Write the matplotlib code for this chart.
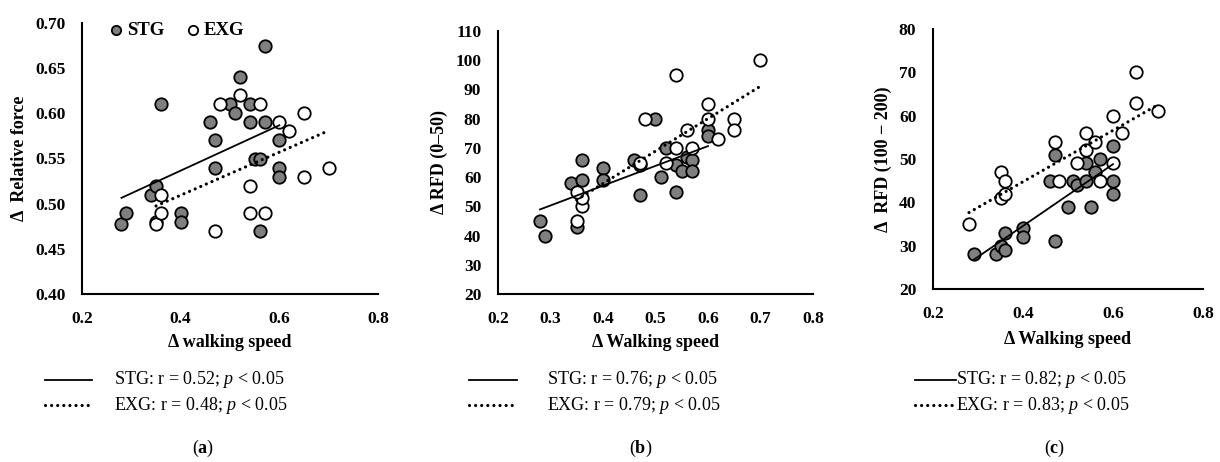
import numpy as np
import matplotlib
matplotlib.use('Agg')
import matplotlib.pyplot as plt
from matplotlib.lines import Line2D
from matplotlib.ticker import FormatStrFormatter

plt.rcParams['font.family'] = ['Liberation Serif', 'DejaVu Serif']
plt.rcParams['mathtext.fontset'] = 'custom'
plt.rcParams['mathtext.rm'] = 'Liberation Serif'
plt.rcParams['mathtext.it'] = 'Liberation Serif:italic'
plt.rcParams['mathtext.bf'] = 'Liberation Serif:bold'

# (a) relative force vs walking speed
stg_a_x = [0.28, 0.29, 0.34, 0.35, 0.36, 0.40, 0.40, 0.46, 0.47, 0.47, 0.50, 0.51,
           0.52, 0.54, 0.54, 0.55, 0.56, 0.56, 0.57, 0.57, 0.60, 0.60, 0.60]
stg_a_y = [0.478, 0.49, 0.51, 0.52, 0.61, 0.49, 0.48, 0.59, 0.57, 0.54, 0.61, 0.60,
           0.64, 0.61, 0.59, 0.55, 0.55, 0.47, 0.675, 0.59, 0.57, 0.54, 0.53]
exg_a_x = [0.35, 0.35, 0.36, 0.36, 0.47, 0.48, 0.52, 0.54, 0.54, 0.56, 0.57, 0.60,
           0.62, 0.65, 0.65, 0.70]
exg_a_y = [0.48, 0.477, 0.51, 0.49, 0.47, 0.61, 0.62, 0.52, 0.49, 0.61, 0.49, 0.59,
           0.58, 0.60, 0.53, 0.54]

# (b) RFD 0-50
stg_b_x = [0.28, 0.29, 0.34, 0.35, 0.36, 0.36, 0.40, 0.40, 0.46, 0.47, 0.47, 0.50,
           0.51, 0.52, 0.54, 0.54, 0.55, 0.56, 0.57, 0.57, 0.60, 0.60]
stg_b_y = [45, 40, 58, 43, 66, 59, 63, 59, 66, 64, 54, 80,
           60, 70, 64, 55, 62, 67, 66, 62, 76, 74]
exg_b_x = [0.35, 0.36, 0.36, 0.35, 0.47, 0.48, 0.52, 0.54, 0.54, 0.56, 0.57, 0.60,
           0.60, 0.62, 0.65, 0.65, 0.70]
exg_b_y = [45, 50, 53, 55, 65, 80, 65, 95, 70, 76, 70, 85,
           80, 73, 80, 76, 100]

# (c) RFD 100-200
stg_c_x = [0.29, 0.34, 0.35, 0.36, 0.36, 0.40, 0.40, 0.47, 0.46, 0.47, 0.50, 0.51,
           0.52, 0.54, 0.54, 0.55, 0.56, 0.57, 0.60, 0.60, 0.60]
stg_c_y = [28, 28, 30, 29, 33, 34, 32, 31, 45, 51, 39, 45,
           44, 49, 45, 39, 47, 50, 53, 45, 42]
exg_c_x = [0.28, 0.35, 0.35, 0.36, 0.36, 0.47, 0.48, 0.52, 0.54, 0.54, 0.56, 0.57,
           0.60, 0.60, 0.62, 0.65, 0.65, 0.70]
exg_c_y = [35, 47, 41, 45, 42, 54, 45, 49, 56, 52, 54, 45,
           60, 49, 56, 70, 63, 61]

stats = [("0.52", "0.48"), ("0.76", "0.79"), ("0.82", "0.83")]

fig = plt.figure(figsize=(12.2, 4.62), dpi=100)
W, H = 1220.0, 462.0

def box(l, t, r, b):
    return [l / W, 1 - b / H, (r - l) / W, (b - t) / H]

ax_a = fig.add_axes(box(82, 23, 378, 294))
ax_b = fig.add_axes(box(498, 31, 813, 294))
ax_c = fig.add_axes(box(933, 29, 1203, 289))

DOT = (0, (0.01, 1.9))

panels = [
    (ax_a, stg_a_x, stg_a_y, exg_a_x, exg_a_y, (0.40, 0.70), np.arange(0.40, 0.701, 0.05), '%.2f',
     [0.2, 0.4, 0.6, 0.8], u'\u0394  Relative force', u'\u0394 walking speed', 5),
    (ax_b, stg_b_x, stg_b_y, exg_b_x, exg_b_y, (20, 110), np.arange(20, 111, 10), '%d',
     np.arange(0.2, 0.81, 0.1), u'\u0394 RFD (0\u201350)', u'\u0394 Walking speed', 5),
    (ax_c, stg_c_x, stg_c_y, exg_c_x, exg_c_y, (20, 80), np.arange(20, 81, 10), '%d',
     [0.2, 0.4, 0.6, 0.8], u'\u0394  RFD (100 \u2212 200)', u'\u0394 Walking speed', 6.5),
]

for ax, sx, sy, ex, ey, ylim, yticks, yfmt, xticks, ylab, xlab, xpad in panels:
    ax.scatter(sx, sy, s=80, c='#7f7f7f', edgecolors='black', linewidths=1.3, zorder=3, label='STG')
    ax.scatter(ex, ey, s=80, c='white', edgecolors='black', linewidths=1.3, zorder=3, label='EXG')
    # linear trend lines over each group's range
    for gx, gy, solid in [(sx, sy, True), (ex, ey, False)]:
        k, b0 = np.polyfit(gx, gy, 1)
        xs = np.array([min(gx), max(gx)])
        if solid:
            ax.plot(xs, k * xs + b0, color='black', lw=1.3, zorder=4)
        else:
            ax.plot(xs, k * xs + b0, color='black', lw=2.3, ls=DOT,
                    dash_capstyle='round', zorder=4)
    ax.set_xlim(0.2, 0.8)
    ax.set_ylim(*ylim)
    ax.set_xticks(xticks)
    ax.set_yticks(yticks)
    ax.xaxis.set_major_formatter(FormatStrFormatter('%.1f'))
    ax.yaxis.set_major_formatter(FormatStrFormatter(yfmt))
    ax.tick_params(length=0, pad=12, labelsize=12.5)
    for t in ax.get_xticklabels() + ax.get_yticklabels():
        t.set_fontweight('bold')
    for s in ['top', 'right']:
        ax.spines[s].set_visible(False)
    for s in ['left', 'bottom']:
        ax.spines[s].set_linewidth(1.5)
    ax.set_ylabel(ylab, fontsize=13, fontweight='bold', labelpad=5)
    ax.set_xlabel(xlab, fontsize=13, fontweight='bold', labelpad=xpad)
    for c in ax.collections:
        c.set_clip_on(False)

ax_a.legend(loc='upper left', bbox_to_anchor=(0.02, 1.065), ncol=2, frameon=False,
            markerscale=0.75, handletextpad=0.0, columnspacing=0.9, handlelength=1.2,
            prop={'weight': 'bold', 'size': 13.5})

# bottom keys with r values
keys = [(45, 92, 114, 203), (469, 517, 547, 641), (915, 956, 956, 1055)]
tags = ['a', 'b', 'c']
for (x0, x1, tx, cx), (r1, r2), tag in zip(keys, stats, tags):
    for row, (grp, r, solid) in enumerate([('STG', r1, True), ('EXG', r2, False)]):
        yy = 1 - (380 + 25 * row) / H
        if solid:
            fig.add_artist(Line2D([x0 / W, x1 / W], [yy, yy], color='black', lw=1.3))
        else:
            fig.add_artist(Line2D([x0 / W, x1 / W], [yy, yy], color='black', lw=2.3,
                                  ls=(0, (0.01, 1.9)), dash_capstyle='round'))
        fig.text(tx / W, yy, grp + ': r = ' + r + '; $\\mathit{p}$ < 0.05',
                 fontsize=13, va='center', ha='left')
    fig.text(cx / W, 1 - 448 / H, '($\\mathbf{' + tag + '}$)', fontsize=13,
             ha='center', va='center')

fig.savefig('out.png', dpi=100)
